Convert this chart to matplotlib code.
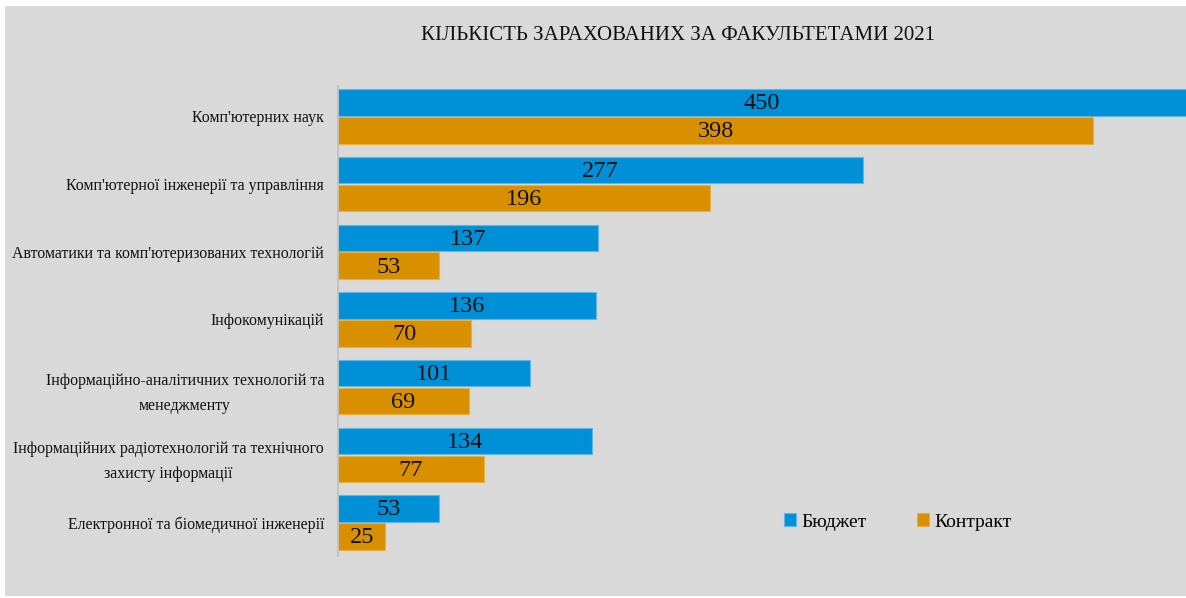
import matplotlib
matplotlib.use("Agg")
import matplotlib.pyplot as plt
from matplotlib.patches import Rectangle
import numpy as np

categories = [
    "Комп'ютерних наук",
    "Комп'ютерної інженерії та управління",
    "Автоматики та комп'ютеризованих технологій",
    "Інфокомунікацій",
    "Інформаційно-аналітичних технологій та\nменеджменту",
    "Інформаційних радіотехнологій та технічного\nзахисту інформації",
    "Електронної та біомедичної інженерії",
]
budget = [450, 277, 137, 136, 101, 134, 53]
contract = [398, 196, 53, 70, 69, 77, 25]
series_names = ["Бюджет", "Контракт"]
title = "КІЛЬКІСТЬ ЗАРАХОВАНИХ ЗА ФАКУЛЬТЕТАМИ 2021"

BLUE = "#0090d8"
ORANGE = "#d99000"
GRAY = "#d9d9d9"
FONT = "Liberation Serif"

W, H = 1186, 598
fig = plt.figure(figsize=(W / 100, H / 100), dpi=100, facecolor="white")
bg = Rectangle((5 / W, 0.004), 1 - 5 / W, 1 - 6 / H - 0.004,
               transform=fig.transFigure, facecolor=GRAY,
               edgecolor="none", zorder=-10)
fig.add_artist(bg)

ax = fig.add_axes([338 / W, 1 - 556 / H, 1 - 338 / W, (556 - 86) / H])
ax.patch.set_alpha(0)

y = np.arange(len(categories))
h = 0.39
b1 = ax.barh(y - 0.205, budget, height=h, color=BLUE, edgecolor="#5fb5e6",
             linewidth=0.8, label=series_names[0])
b2 = ax.barh(y + 0.205, contract, height=h, color=ORANGE, edgecolor="#e8b040",
             linewidth=0.8, label=series_names[1])

ax.set_xlim(0, 447)
ax.set_ylim(6.495, -0.45)

for bars, vals in ((b1, budget), (b2, contract)):
    for rect, v in zip(bars, vals):
        xc = min(v, 447) / 2
        ax.text(xc, rect.get_y() + rect.get_height() / 2 + 0.02, str(v),
                ha="center", va="center", fontsize=17.5, family=FONT,
                color="#111111")

ax.set_yticks(y)
ax.set_yticklabels(categories, fontsize=11.4, family=FONT, color="#111111",
                   multialignment="center")
for lab in ax.get_yticklabels():
    lab.set_linespacing(1.75)
ax.tick_params(axis="y", length=0, pad=10)
ax.set_xticks([])
for s in ("top", "right", "bottom"):
    ax.spines[s].set_visible(False)
ax.spines["left"].set_color("#bfbfbf")
ax.spines["left"].set_linewidth(1.2)

fig.text(678 / W, 1 - 35 / H, title, ha="center", va="center", fontsize=15,
         family=FONT, color="#111111")

fig.legend(handles=[b1, b2], labels=series_names, loc="center",
           bbox_to_anchor=(898 / W, 1 - 522 / H), ncol=2, frameon=False,
           handlelength=0.6, handleheight=0.6, handletextpad=0.3,
           columnspacing=2.6, prop={"family": FONT, "size": 14})

fig.savefig("out.png", dpi=100, facecolor="white")
